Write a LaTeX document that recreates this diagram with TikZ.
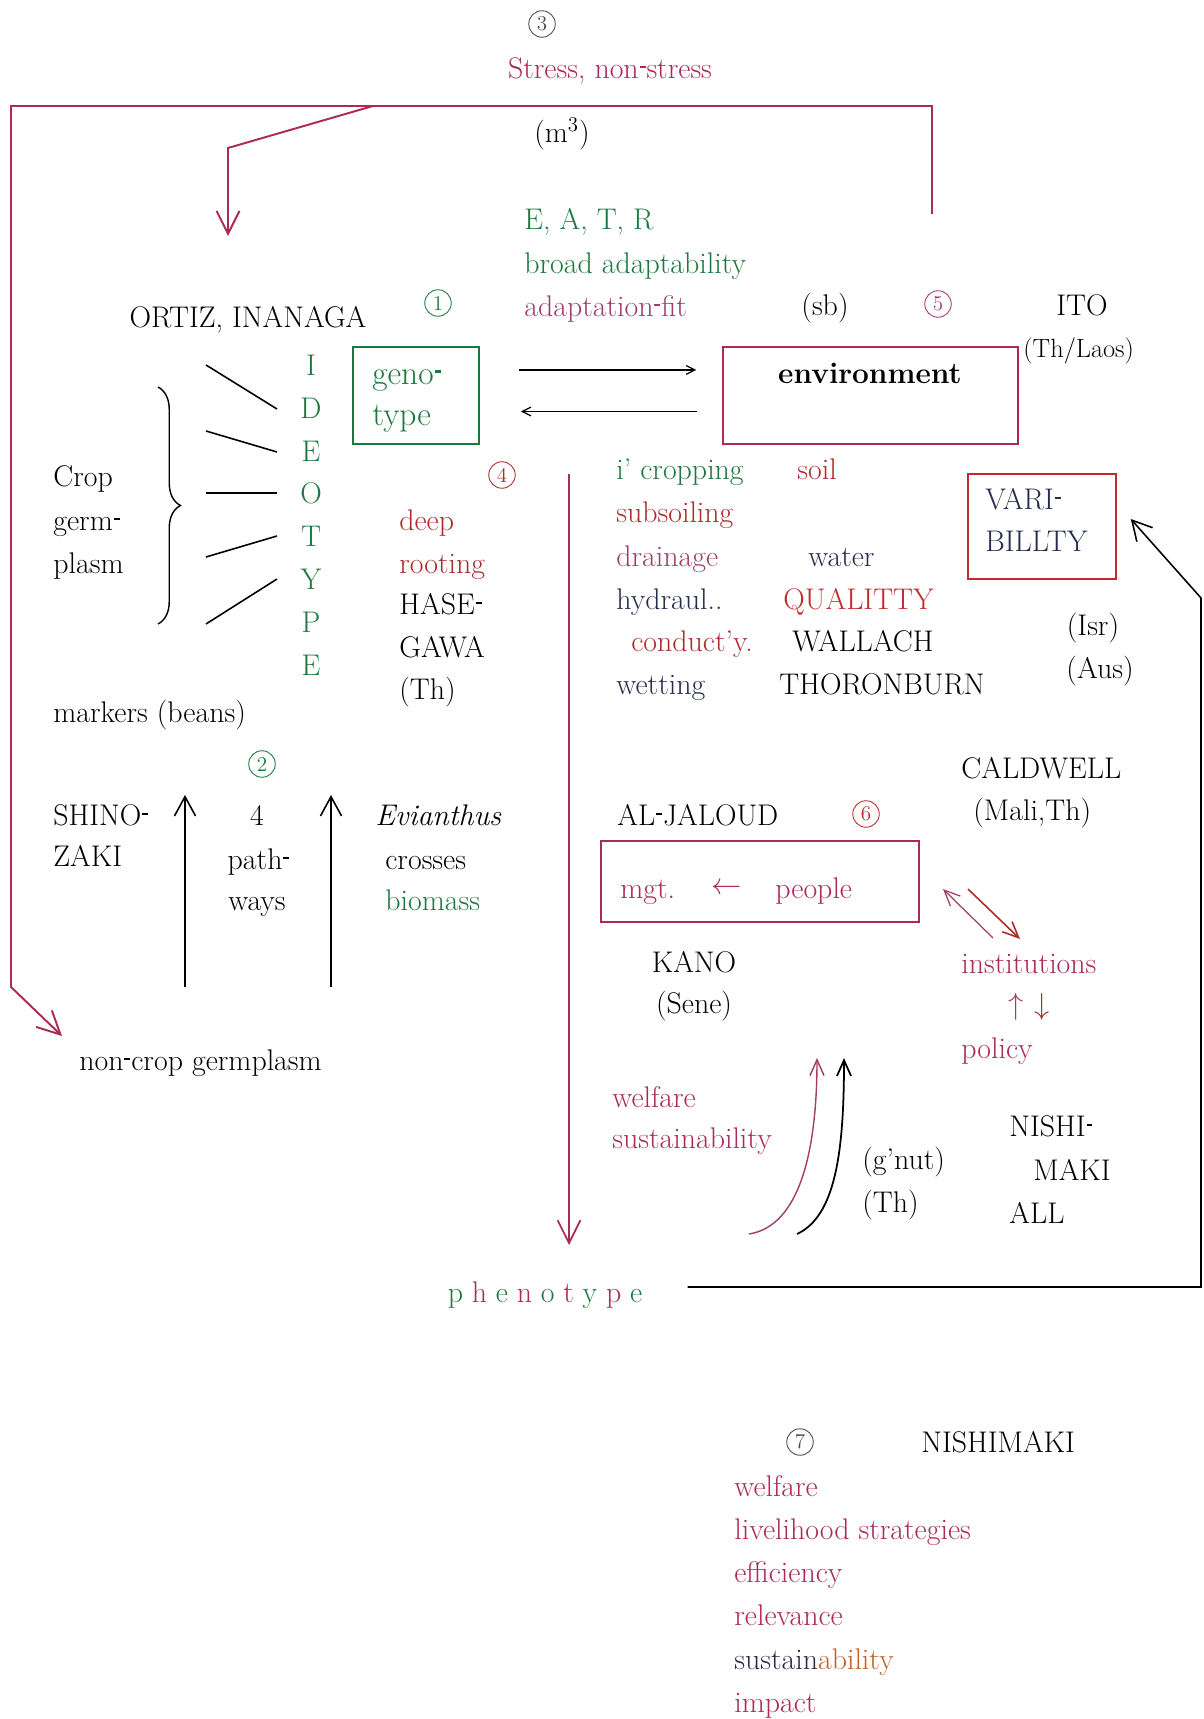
\documentclass[tikz,border=0pt]{standalone}
\usetikzlibrary{arrows.meta,decorations.pathreplacing,calc}
\definecolor{colG}{RGB}{28,120,62}
\definecolor{colC}{RGB}{172,42,86}
\definecolor{colM}{RGB}{160,62,104}
\definecolor{colR}{RGB}{172,44,44}
\definecolor{colQ}{RGB}{192,44,44}
\definecolor{colN}{RGB}{38,44,78}
\definecolor{colO}{RGB}{196,96,36}
\newcommand\hy{\kern0.03em\rule[0.34em]{0.2em}{0.075em}\kern0.03em}
\newcommand\phsp{\hspace{5pt}}
\begin{document}
\begin{tikzpicture}[x=0.02cm,y=-0.02cm,
  every node/.style={font=\fontsize{17pt}{20pt}\selectfont},
  tx/.style={anchor=west, inner sep=0pt, text height=11.6pt, text depth=0pt},
  tc/.style={tx, anchor=center},
  circ/.style={circle, draw, minimum size=0.53cm, inner sep=0pt, line width=0.5pt, font=\fontsize{12pt}{12pt}\selectfont},
  frame/.style={draw=colC, line width=1.1pt},
  bigtip/.style={-{Straight Barb[length=13pt,width=13pt]}},
  uptip/.style={-{Straight Barb[length=11pt,width=12pt]}},
  smalltip/.style={-{Straight Barb[length=5pt,width=5pt]}},
  midtip/.style={-{Straight Barb[length=9pt,width=8pt]}},
  blk/.style={draw=black, line width=0.9pt}]
\useasboundingbox (0,0) rectangle (1203,1719);
\fill[white] (0,0) rectangle (1203,1719);

% ---- top section
\node[circ, black!70] (n3) at (542,24) {3};
\node[tc, colC] (stress) at (610,68) {Stress, non\hy stress};
\node[tc] (m3) at (562,132) {(m\textsuperscript{3})};
\node[tx, colG] (eatr) at (524,219) {E, A, T, R};
\node[tx, colG] (broad) at (524,263) {broad adaptability};
\node[tx, colM] (fit) at (524,306) {adaptation\hy fit};
\node[tc] (sb) at (825,305) {(sb)};
\node[circ, colM] (n5) at (938,304) {5};
\node[tc] (ito) at (1082,305) {ITO};
\node[tx, font=\fontsize{15pt}{18pt}\selectfont] (thlaos) at (1023,347) {(Th/Laos)};
\node[tc] (ortiz) at (248,317) {ORTIZ, INANAGA};
\node[circ, colG] (n1) at (438,303) {1};

% red frame
\coordinate (frb) at (932,214);
\coordinate (fr) at (932,106);
\coordinate (fl) at (11,106);
\coordinate (fll) at (11,987);
\coordinate (fa) at (62,1036);
\coordinate (fb) at (373,106);
\coordinate (fk) at (228,148);
\coordinate (ft) at (228,236);
\draw[frame, bigtip] (frb) -- (fr) -- (fl) -- (fll) -- (fa);
\draw[frame, bigtip] (fb) -- (fk) -- (ft);

% genotype / environment
\node[draw=colG, line width=0.9pt, minimum width=2.52cm, minimum height=1.94cm] (geno) at (416,395.5) {};
\node[tx, colG, font=\fontsize{19pt}{22pt}\selectfont] (genoa) at (372,374) {geno\hy};
\node[tx, colG, font=\fontsize{19pt}{22pt}\selectfont] (genob) at (372,415) {type};
\node[draw=colC, line width=0.9pt, minimum width=5.9cm, minimum height=1.94cm] (env) at (870.5,395.5) {};
\node[tc] (envt) at (870,373) {\bfseries environment};
\draw[blk, line width=0.7pt, smalltip] ($(geno.east)+(39,-25.5)$) -- ($(env.west)+(-26,-25.5)$);
\draw[blk, line width=0.7pt, smalltip] ($(env.west)+(-25,16)$) -- ($(geno.east)+(41,16)$);

% IDEOTYPE
\foreach \l/\y/\n in {I/365/i1, D/408/i2, E/451/i3, O/493/i4, T/536/i5, Y/579/i6, P/622/i7, E/665/i8}
  \node[tc, colG] (\n) at (311,\y) {\l};
\coordinate (l1) at (206,365);
\coordinate (l2) at (206,431);
\coordinate (l3) at (206,493);
\coordinate (l4) at (206,557);
\coordinate (l5) at (206,624);
\draw[blk] (l1) -- ($(i2)+(-34,1)$);
\draw[blk] (l2) -- ($(i3)+(-34,1)$);
\draw[blk] (l3) -- ($(i4)+(-34,0)$);
\draw[blk] (l4) -- ($(i5)+(-34,0)$);
\draw[blk] (l5) -- ($(i6)+(-34,0)$);
\coordinate (b1) at (158,387);
\coordinate (b2) at (158,624);
\draw[line width=0.8pt, decorate, decoration={brace, amplitude=0.45cm}] (b1) -- (b2);
\node[tx] (crop1) at (53,476) {Crop};
\node[tx] (crop2) at (53,520) {germ\hy};
\node[tx] (crop3) at (53,563) {plasm};

\node[circ, colR] (n4) at (502,475) {4};
\node[tx, colR] (deep) at (399,520) {deep};
\node[tx, colR] (rooting) at (399,563) {rooting};
\node[tx] (hase) at (399,604) {HASE\hy};
\node[tx] (gawa) at (399,647) {GAWA};
\node[tx] (th1) at (399,689) {(Th)};
\node[tx] (markers) at (53,712) {markers (beans)};

% red vertical to phenotype
\coordinate (v1) at (569,474);
\coordinate (v2) at (569,1245);
\draw[frame, line width=1pt, bigtip] (v1) -- (v2);

% right column
\node[tx, colG] (icrop) at (616,469) {i’ cropping};
\node[tx, colR] (soil) at (797,469) {soil};
\node[tx, colR] (subs) at (616,512) {subsoiling};
\node[tx, colM] (drain) at (616,556) {drainage};
\node[tx, colN] (water) at (808,556) {water};
\node[tx, colN] (hydr) at (616,599) {hydraul..};
\node[tx, colQ] (qual) at (783,599) {QUALITTY};
\node[tx, colR] (cond) at (631,641) {conduct’y.};
\node[tx] (wall) at (792,641) {WALLACH};
\node[tx, colN] (wett) at (616,684) {wetting};
\node[tx] (thor) at (779,684) {THORONBURN};
\node[draw=colQ, line width=0.9pt, minimum width=2.96cm, minimum height=2.1cm] (vari) at (1042,526.5) {};
\node[tx, colN] (vari1) at (985,499) {VARI\hy};
\node[tx, colN] (vari2) at (985,541) {BILLTY};
\node[tc] (isr) at (1093,625) {(Isr)};
\node[tc] (aus) at (1100,668) {(Aus)};

% section 2
\node[circ, colG] (n2) at (262,764) {2};
\node[tx] (shino1) at (53,815) {SHINO\hy};
\node[tx] (shino2) at (53,856) {ZAKI};
\coordinate (ua1) at (185,987);
\coordinate (ua2) at (185,795);
\coordinate (ub1) at (331,987);
\coordinate (ub2) at (331,795);
\draw[blk, uptip] (ua1) -- (ua2);
\draw[blk, uptip] (ub1) -- (ub2);
\node[tc] (four) at (257,815) {4};
\node[tc] (path) at (259,859) {path\hy};
\node[tc] (ways) at (257,900) {ways};
\node[tx] (evian) at (375,815) {\itshape Evianthus};
\node[tx] (cross) at (385,859) {crosses};
\node[tx, colG] (bio) at (385,900) {biomass};
\node[tx] (noncrop) at (79,1060) {non\hy crop germplasm};

% section 6
\node[tx] (cald) at (961,768) {CALDWELL};
\node[tx] (mali) at (973,810) {(Mali,Th)};
\node[tx] (jal) at (617,815) {AL\hy JALOUD};
\node[circ, colQ] (n6) at (866,814) {6};
\node[draw=colC, line width=0.9pt, minimum width=6.36cm, minimum height=1.62cm] (mgtbox) at (760,881.5) {};
\node[tx, colC] (mgt) at (620,888) {mgt.};
\node[tc, colC] (larr) at (727,884) {$\leftarrow$};
\node[tx, colC] (people) at (775,888) {people};
\node[tc] (kano) at (694,962) {KANO};
\node[tc] (sene) at (694,1003) {(Sene)};
\node[tx, colC] (inst) at (961,963) {institutions};
\node[tc, colM] (uparr) at (1016,1004) {$\uparrow$};
\node[tc, colR] (dnarr) at (1042,1004) {$\downarrow$};
\node[tx, colC] (policy) at (961,1048) {policy};
\coordinate (da1) at (993,938);
\coordinate (da2) at (943,889);
\coordinate (db1) at (968,889);
\coordinate (db2) at (1020,939);
\draw[colM, line width=0.7pt, midtip] (da1) -- (da2);
\draw[colR, line width=0.9pt, midtip] (db1) -- (db2);

\node[tx, colC] (welf) at (612,1097) {welfare};
\node[tx, colC] (sust) at (612,1138) {sustainability};
\coordinate (ca1) at (749,1234);
\coordinate (ca2) at (817,1058);
\coordinate (cb1) at (797,1234);
\coordinate (cb2) at (844,1058);
\draw[colM, line width=0.8pt, midtip] (ca1) .. controls (800,1226) and (817,1150) .. (ca2);
\draw[black, line width=1pt, midtip] (cb1) .. controls (836,1216) and (844,1150) .. (cb2);
\node[tx] (gnut) at (862,1159) {(g’nut)};
\node[tx] (th2) at (862,1202) {(Th)};
\node[tx] (nishi1) at (1009,1126) {NISHI\hy};
\node[tx] (nishi2) at (1033,1170) {MAKI};
\node[tx] (nishi3) at (1009,1213) {ALL};

% phenotype
\node[tc] (pheno) at (545,1292) {\textcolor{colG}{p}\phsp\textcolor{colC}{h}\phsp\textcolor{colG}{e}\phsp\textcolor{colC}{n}\phsp\textcolor{colG}{o}\phsp\textcolor{colC}{t}\phsp\textcolor{colG}{y}\phsp\textcolor{colC}{p}\phsp\textcolor{colG}{e}};
\coordinate (br) at (1201,1287);
\coordinate (bu) at (1201,598);
\draw[blk, line width=0.9pt, uptip] ($(pheno.east)+(45,-5)$) -- (br) -- (bu) -- ($(vari.east)+(14,-7.5)$);

% section 7
\node[circ, black!70] (n7) at (800,1442) {7};
\node[tx] (nishimaki) at (921,1442) {NISHIMAKI};
\node[tx, colC] (w1) at (734,1486) {welfare};
\node[tx, colC] (w2) at (734,1529) {livelihood strategies};
\node[tx, colC] (w3) at (734,1572) {efficiency};
\node[tx, colC] (w4) at (734,1615) {relevance};
\node[tx] (w5) at (734,1659) {\textcolor{colN}{sustain}\textcolor{colO}{ability}};
\node[tx, colC] (w6) at (734,1702) {impact};
\end{tikzpicture}
\end{document}
